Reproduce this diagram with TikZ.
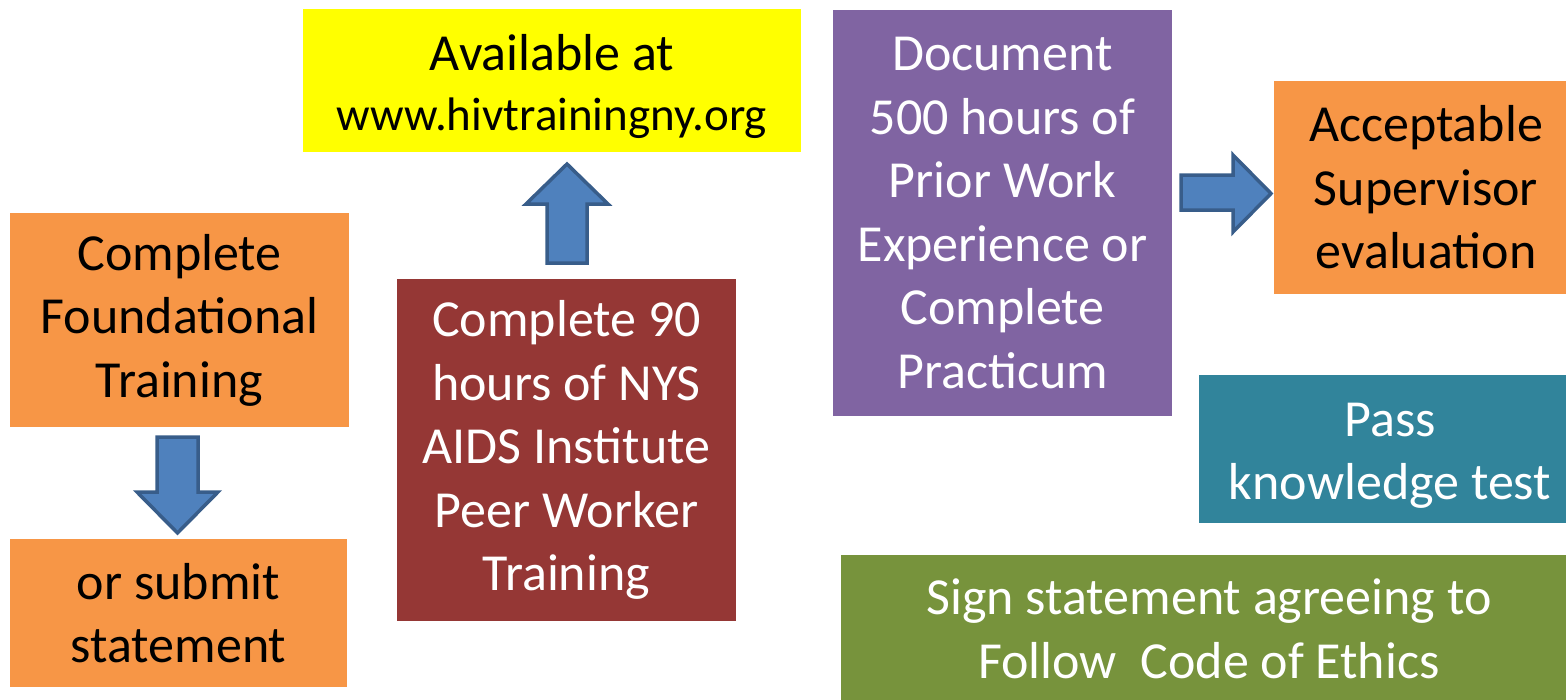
\documentclass[tikz,border=0pt]{standalone}
\usepackage{fontspec}
\setmainfont{Carlito}
\definecolor{boxorange}{HTML}{F79646}
\definecolor{boxyellow}{HTML}{FFFF00}
\definecolor{boxred}{HTML}{953735}
\definecolor{boxpurple}{HTML}{8064A2}
\definecolor{boxteal}{HTML}{31849B}
\definecolor{boxgreen}{HTML}{77933C}
\definecolor{arrowfill}{HTML}{4F81BD}
\definecolor{arrowline}{HTML}{385D8A}
\tikzset{
  box/.style={rectangle, inner sep=0pt, align=center,
    font=\fontsize{52}{63.5}\selectfont},
  arrowblk/.style={fill=arrowfill, draw=arrowline, line width=3.5pt, line join=miter}
}
\begin{document}
\begin{tikzpicture}[x=1pt,y=-1pt]
      \useasboundingbox (0,0) rectangle (1566,699);
      \draw
        (179.5,320) node[box, fill=boxorange, minimum width=339, minimum height=214] (found){Complete\\Foundational\\Training}
        (178.5,613) node[box, fill=boxorange, minimum width=337, minimum height=148] (submit){or submit\\statement}
        (552,80.5) node[box, fill=boxyellow, minimum width=498, minimum height=143] (avail){\rule{0pt}{48pt}Available at\\[-4pt]{\fontsize{47}{58}\selectfont www.hivtrainingny.org}}
        (566.5,450) node[box, fill=boxred, text=white, minimum width=339, minimum height=342] (peer){Complete 90\\hours of NYS\\AIDS Institute\\Peer Worker\\Training}
        (1002.5,213) node[box, fill=boxpurple, text=white, minimum width=339, minimum height=406] (document){Document\\500 hours of\\Prior Work\\Experience or\\Complete\\Practicum}
        (1426,187.5) node[box, fill=boxorange, minimum width=304, minimum height=213] (supervisor){Acceptable\\Supervisor\\evaluation}
        (1390,449) node[box, fill=boxteal, text=white, minimum width=382, minimum height=148] (test){\rule{0pt}{47pt}Pass\\knowledge test}
        (1209,629) node[box, fill=boxgreen, text=white, minimum width=736, minimum height=148] (ethics){Sign statement agreeing to\\Follow~ Code of Ethics};
      % up to the web site
      \draw[arrowblk] (567,164) -- (608,204) -- (587,204) -- (587,263) -- (547,263) -- (547,204) -- (526,204) -- cycle;
      % down to the statement
      \draw[arrowblk] (157,437) -- (198,437) -- (198,492) -- (218,492) -- (177.5,533) -- (137,492) -- (157,492) -- cycle;
      % right to the evaluation
      \draw[arrowblk] (1181,175) -- (1233,175) -- (1233,155) -- (1271,193.5) -- (1233,232) -- (1233,210) -- (1181,210) -- cycle;
    \end{tikzpicture}
\end{document}
